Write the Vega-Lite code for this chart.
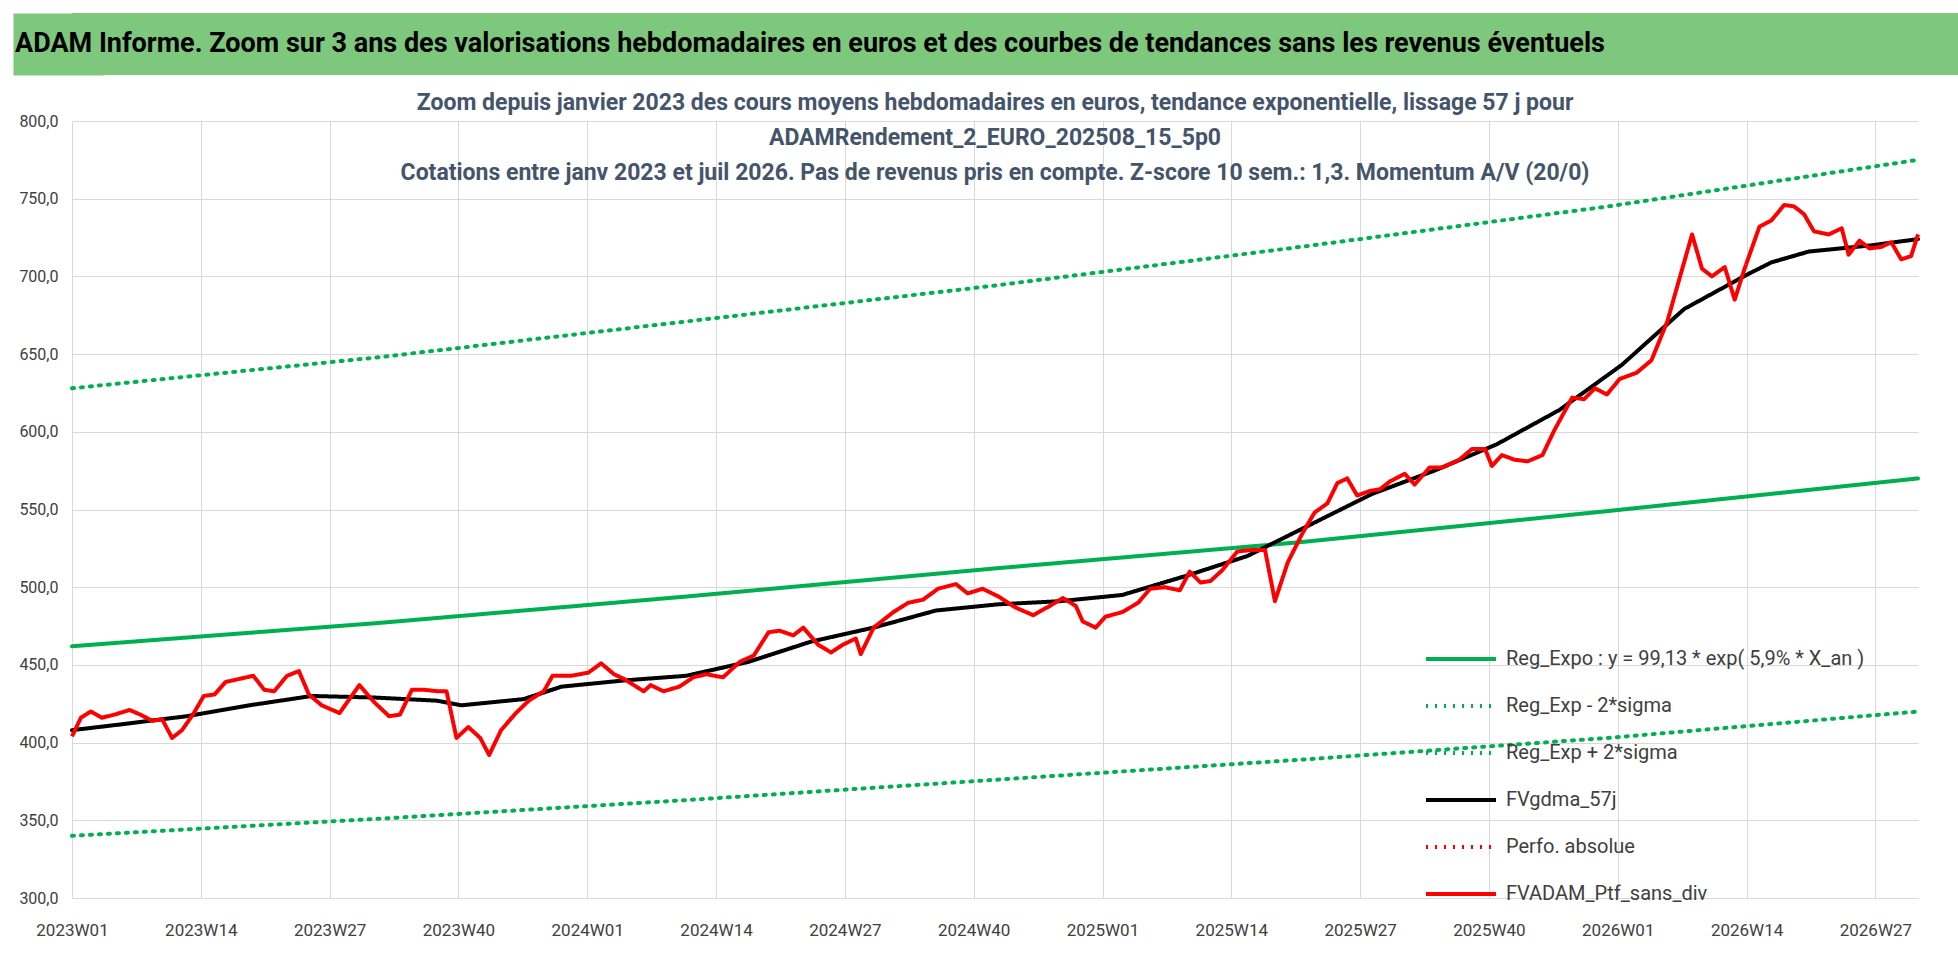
{
  "$schema": "https://vega.github.io/schema/vega-lite/v6.json",
  "padding": 0,
  "spacing": 4,
  "background": "white",
  "config": {
    "font": "Roboto",
    "view": {"stroke": null},
    "axis": {"labelFont": "Roboto", "labelColor": "#404040"}
  },
  "datasets": {
    "series": [
      {"w": 0, "v": 462, "s": "expo"}, {"w": 31, "v": 477, "s": "expo"}, {"w": 62, "v": 494, "s": "expo"}, {"w": 93, "v": 512, "s": "expo"}, {"w": 124, "v": 529, "s": "expo"}, {"w": 155, "v": 549, "s": "expo"}, {"w": 186.3, "v": 570, "s": "expo"},
      {"w": 0, "v": 340, "s": "m2s"}, {"w": 31, "v": 351, "s": "m2s"}, {"w": 62, "v": 363, "s": "m2s"}, {"w": 93, "v": 376, "s": "m2s"}, {"w": 124, "v": 389, "s": "m2s"}, {"w": 155, "v": 403, "s": "m2s"}, {"w": 186.3, "v": 420, "s": "m2s"},
      {"w": 0, "v": 628, "s": "p2s"}, {"w": 31, "v": 648, "s": "p2s"}, {"w": 62, "v": 671, "s": "p2s"}, {"w": 93, "v": 694, "s": "p2s"}, {"w": 124, "v": 719, "s": "p2s"}, {"w": 155, "v": 745, "s": "p2s"}, {"w": 186.3, "v": 775, "s": "p2s"},
      {"w": 0, "v": 408, "s": "ma"}, {"w": 5.3, "v": 412, "s": "ma"}, {"w": 11.6, "v": 417, "s": "ma"}, {"w": 17.9, "v": 424, "s": "ma"}, {"w": 24.2, "v": 430, "s": "ma"}, {"w": 30.5, "v": 429, "s": "ma"}, {"w": 36.8, "v": 427, "s": "ma"}, {"w": 39.3, "v": 424, "s": "ma"}, {"w": 45.6, "v": 428, "s": "ma"}, {"w": 49.4, "v": 436, "s": "ma"}, {"w": 55.7, "v": 440, "s": "ma"}, {"w": 62, "v": 443, "s": "ma"}, {"w": 68.3, "v": 452, "s": "ma"}, {"w": 74.6, "v": 465, "s": "ma"}, {"w": 80.9, "v": 474, "s": "ma"}, {"w": 87.2, "v": 485, "s": "ma"}, {"w": 93.5, "v": 489, "s": "ma"}, {"w": 99.7, "v": 491, "s": "ma"}, {"w": 106, "v": 495, "s": "ma"}, {"w": 112.3, "v": 507, "s": "ma"}, {"w": 118.6, "v": 520, "s": "ma"}, {"w": 124.9, "v": 540, "s": "ma"}, {"w": 131.2, "v": 560, "s": "ma"}, {"w": 137.5, "v": 575, "s": "ma"}, {"w": 143.8, "v": 592, "s": "ma"}, {"w": 150.1, "v": 614, "s": "ma"}, {"w": 156.4, "v": 643, "s": "ma"}, {"w": 162.7, "v": 679, "s": "ma"}, {"w": 169, "v": 701, "s": "ma"}, {"w": 171.5, "v": 709, "s": "ma"}, {"w": 175.3, "v": 716, "s": "ma"}, {"w": 181.6, "v": 720, "s": "ma"}, {"w": 186.3, "v": 724, "s": "ma"}
    ],
    "ptf": [
      {"w": 0, "v": 404}, {"w": 0.9, "v": 416}, {"w": 1.9, "v": 420}, {"w": 3, "v": 416}, {"w": 4.3, "v": 418}, {"w": 5.8, "v": 421}, {"w": 6.9, "v": 418}, {"w": 8.1, "v": 414}, {"w": 9.1, "v": 415}, {"w": 10.1, "v": 403}, {"w": 11.1, "v": 408}, {"w": 12.2, "v": 418}, {"w": 13.3, "v": 430}, {"w": 14.4, "v": 431}, {"w": 15.5, "v": 439}, {"w": 16.9, "v": 441}, {"w": 18.3, "v": 443}, {"w": 19.4, "v": 434}, {"w": 20.4, "v": 433}, {"w": 21.7, "v": 443}, {"w": 22.9, "v": 446}, {"w": 23.9, "v": 431}, {"w": 25.2, "v": 424}, {"w": 27, "v": 419}, {"w": 29, "v": 437}, {"w": 30.5, "v": 426}, {"w": 32, "v": 417}, {"w": 33.1, "v": 418}, {"w": 34.3, "v": 434}, {"w": 35.5, "v": 434}, {"w": 37, "v": 433}, {"w": 37.8, "v": 433}, {"w": 38.8, "v": 403}, {"w": 40, "v": 410}, {"w": 41.2, "v": 403}, {"w": 42.1, "v": 392}, {"w": 43.3, "v": 408}, {"w": 44.8, "v": 419}, {"w": 46.1, "v": 427}, {"w": 47.6, "v": 433}, {"w": 48.5, "v": 443}, {"w": 50.4, "v": 443}, {"w": 52.1, "v": 445}, {"w": 53.4, "v": 451}, {"w": 54.7, "v": 444}, {"w": 55.7, "v": 441}, {"w": 57.7, "v": 433}, {"w": 58.4, "v": 437}, {"w": 59.7, "v": 433}, {"w": 61.3, "v": 436}, {"w": 62.7, "v": 442}, {"w": 64, "v": 444}, {"w": 65.7, "v": 442}, {"w": 67.4, "v": 452}, {"w": 68.8, "v": 456}, {"w": 70.3, "v": 471}, {"w": 71.4, "v": 472}, {"w": 72.8, "v": 469}, {"w": 73.8, "v": 474}, {"w": 75.3, "v": 463}, {"w": 76.6, "v": 458}, {"w": 77.8, "v": 463}, {"w": 79.1, "v": 467}, {"w": 79.6, "v": 457}, {"w": 80.9, "v": 474}, {"w": 82.9, "v": 484}, {"w": 84.4, "v": 490}, {"w": 85.9, "v": 492}, {"w": 87.4, "v": 499}, {"w": 89.2, "v": 502}, {"w": 90.4, "v": 496}, {"w": 91.9, "v": 499}, {"w": 93.5, "v": 494}, {"w": 95.2, "v": 487}, {"w": 97, "v": 482}, {"w": 98.7, "v": 488}, {"w": 100, "v": 493}, {"w": 101.3, "v": 488}, {"w": 102, "v": 478}, {"w": 103.3, "v": 474}, {"w": 104.3, "v": 481}, {"w": 106, "v": 484}, {"w": 107.6, "v": 490}, {"w": 108.8, "v": 499}, {"w": 110.3, "v": 500}, {"w": 111.8, "v": 498}, {"w": 112.8, "v": 510}, {"w": 113.9, "v": 503}, {"w": 114.9, "v": 504}, {"w": 116.1, "v": 511}, {"w": 117.6, "v": 523}, {"w": 119.1, "v": 524}, {"w": 120.4, "v": 524}, {"w": 121.4, "v": 491}, {"w": 122.7, "v": 516}, {"w": 124.2, "v": 535}, {"w": 125.4, "v": 548}, {"w": 126.7, "v": 554}, {"w": 127.7, "v": 567}, {"w": 128.7, "v": 570}, {"w": 129.7, "v": 559}, {"w": 131, "v": 562}, {"w": 132, "v": 563}, {"w": 133, "v": 568}, {"w": 134.5, "v": 573}, {"w": 135.5, "v": 566}, {"w": 137, "v": 577}, {"w": 138.3, "v": 577}, {"w": 140, "v": 582}, {"w": 141.3, "v": 589}, {"w": 142.6, "v": 589}, {"w": 143.3, "v": 578}, {"w": 144.3, "v": 585}, {"w": 145.6, "v": 582}, {"w": 146.9, "v": 581}, {"w": 148.4, "v": 585}, {"w": 149.6, "v": 601}, {"w": 151.4, "v": 622}, {"w": 152.6, "v": 621}, {"w": 153.7, "v": 628}, {"w": 154.9, "v": 624}, {"w": 156.2, "v": 634}, {"w": 157.9, "v": 638}, {"w": 159.4, "v": 646}, {"w": 161, "v": 671}, {"w": 162.2, "v": 698}, {"w": 163.5, "v": 727}, {"w": 164.5, "v": 705}, {"w": 165.5, "v": 700}, {"w": 166.8, "v": 706}, {"w": 167.8, "v": 685}, {"w": 168.8, "v": 705}, {"w": 170.3, "v": 732}, {"w": 171.5, "v": 736}, {"w": 172.8, "v": 746}, {"w": 173.8, "v": 745}, {"w": 174.8, "v": 740}, {"w": 175.8, "v": 729}, {"w": 177.3, "v": 727}, {"w": 178.6, "v": 731}, {"w": 179.3, "v": 714}, {"w": 180.4, "v": 723}, {"w": 181.4, "v": 718}, {"w": 182.6, "v": 719}, {"w": 183.6, "v": 722}, {"w": 184.6, "v": 711}, {"w": 185.6, "v": 713}, {"w": 186.3, "v": 727}
    ],
    "header": [{"t": "ADAM Informe. Zoom sur 3 ans des valorisations hebdomadaires en euros et des courbes de tendances sans les revenus éventuels"}]
  },
  "vconcat": [
    {
      "width": 1886,
      "height": 62,
      "view": {"fill": "#7dc87d", "stroke": null},
      "data": {"name": "header"},
      "mark": {"type": "text", "align": "left", "dx": -57, "fontSize": 27, "fontWeight": "bold", "color": "black", "font": "Roboto"},
      "encoding": {
        "text": {"field": "t"},
        "x": {"datum": 0, "type": "quantitative", "scale": {"domain": [0, 1]}, "axis": null},
        "y": {"datum": 0.5, "type": "quantitative", "scale": {"domain": [0, 1]},
          "axis": {"values": [0.5], "labels": false, "domain": false, "grid": false, "title": null, "ticks": true, "tickSize": 28, "tickWidth": 62, "tickCap": "square", "tickColor": "#7dc87d"}}
      }
    },
    {
      "width": 1846,
      "height": 777,
      "title": {
        "text": [
          "Zoom depuis janvier 2023 des cours moyens hebdomadaires  en euros, tendance exponentielle, lissage 57 j pour",
          "ADAMRendement_2_EURO_202508_15_5p0",
          "Cotations  entre janv 2023 et juil 2026. Pas de revenus pris en compte. Z-score 10 sem.: 1,3. Momentum A/V (20/0)"
        ],
        "fontSize": 23, "fontWeight": "bold", "color": "#44546a", "lineHeight": 35, "offset": -72, "anchor": "middle", "font": "Roboto"
      },
      "encoding": {
        "x": {"field": "w", "type": "quantitative",
          "scale": {"domain": [0, 186.3], "nice": false, "zero": false},
          "axis": {"title": null, "values": [0, 13, 26, 39, 52, 65, 78, 91, 104, 117, 130, 143, 156, 169, 182],
            "labelExpr": "['2023W01','2023W14','2023W27','2023W40','2024W01','2024W14','2024W27','2024W40','2025W01','2025W14','2025W27','2025W40','2026W01','2026W14','2026W27'][round(datum.value/13)]",
            "labelFontSize": 17, "labelPadding": 24, "ticks": false, "grid": true, "gridColor": "#d9d9d9", "domainColor": "#d9d9d9", "labelFlush": false}},
        "y": {"field": "v", "type": "quantitative",
          "scale": {"domain": [300, 800], "nice": false, "zero": false},
          "axis": {"title": null, "values": [300, 350, 400, 450, 500, 550, 600, 650, 700, 750, 800],
            "labelExpr": "replace(format(datum.value, '.1f'), '.', ',')",
            "labelFontSize": 16, "labelPadding": 14, "ticks": false, "domain": false, "grid": true, "gridColor": "#d9d9d9"}},
        "color": {"field": "s", "type": "nominal",
          "scale": {"domain": ["expo", "m2s", "p2s", "ma", "perf", "ptf"], "range": ["#00b050", "#00b050", "#00b050", "#000000", "#ff0000", "#ff0000"]},
          "legend": {"title": null, "orient": "none", "legendX": 1352, "legendY": 609, "symbolType": "stroke", "symbolSize": 4900, "symbolStrokeWidth": 4,
            "labelFontSize": 20, "labelColor": "#404040", "rowPadding": -52, "labelOffset": 8, "labelLimit": 0,
            "labelExpr": "{'expo': 'Reg_Expo : y = 99,13 * exp( 5,9% *  X_an )', 'm2s': 'Reg_Exp - 2*sigma', 'p2s': 'Reg_Exp + 2*sigma', 'ma': 'FVgdma_57j', 'perf': 'Perfo. absolue', 'ptf': 'FVADAM_Ptf_sans_div'}[datum.label]"}},
        "strokeDash": {"field": "s", "type": "nominal",
          "scale": {"domain": ["expo", "m2s", "p2s", "ma", "perf", "ptf"], "range": [[1, 0], [2, 7], [2, 7], [1, 0], [2, 7], [1, 0]]},
          "legend": null}
      },
      "layer": [
        {"data": {"name": "series"}, "mark": {"type": "line", "strokeWidth": 4, "strokeCap": "round"}},
        {"data": {"name": "ptf"}, "mark": {"type": "line", "strokeWidth": 4, "color": "#ff0000", "strokeJoin": "round"}, "encoding": {"color": {"datum": "ptf"}, "strokeDash": {"datum": "ptf"}}}
      ]
    }
  ]
}
